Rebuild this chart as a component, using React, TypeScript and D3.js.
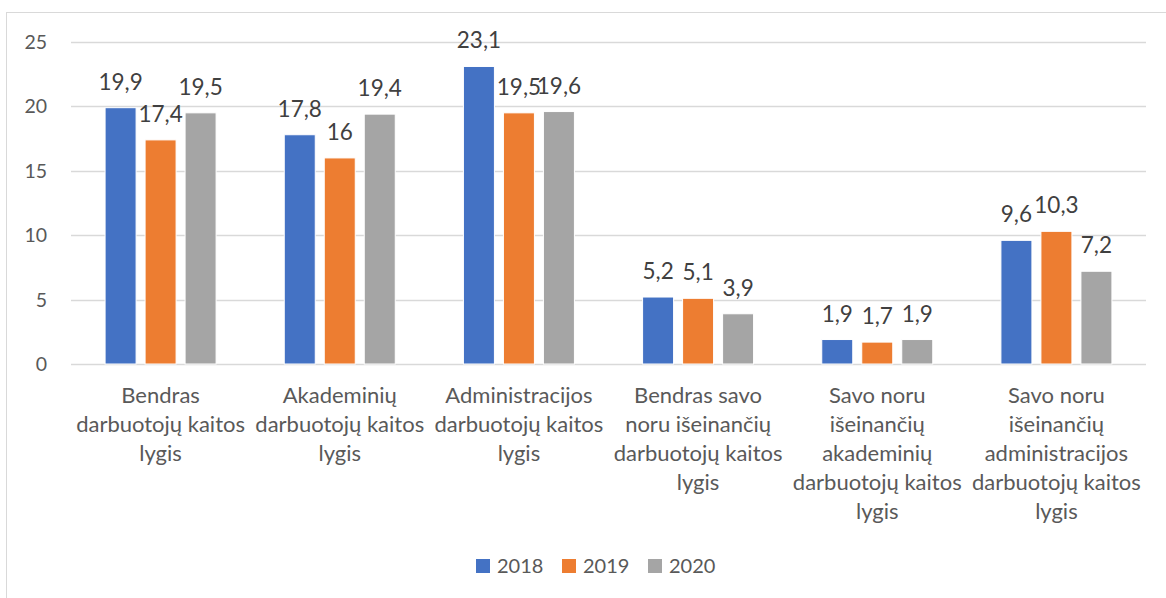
import * as d3 from "d3";
import React, { useEffect, useRef } from "react";

const categories = [
  ["Bendras", "darbuotojų kaitos", "lygis"],
  ["Akademinių", "darbuotojų kaitos", "lygis"],
  ["Administracijos", "darbuotojų kaitos", "lygis"],
  ["Bendras savo", "noru išeinančių", "darbuotojų kaitos", "lygis"],
  ["Savo noru", "išeinančių", "akademinių", "darbuotojų kaitos", "lygis"],
  ["Savo noru", "išeinančių", "administracijos", "darbuotojų kaitos", "lygis"],
];
const years = ["2018", "2019", "2020"];
const values2018 = [19.9, 17.8, 23.1, 5.2, 1.9, 9.6];
const values2019 = [17.4, 16, 19.5, 5.1, 1.7, 10.3];
const values2020 = [19.5, 19.4, 19.6, 3.9, 1.9, 7.2];
const yTicks = [0, 5, 10, 15, 20, 25];
const colors = ["#4472C4", "#ED7D31", "#A5A5A5"];

const W = 1166;
const H = 598;
const FONT = "Lato, 'Open Sans', sans-serif";

export default function App() {
  const ref = useRef<SVGSVGElement>(null);

  useEffect(() => {
    document.body.style.margin = "0";
    const svg = d3.select(ref.current);
    svg.selectAll("*").remove();

    // chart frame (runs off the right/bottom edge like the screenshot)
    svg
      .append("rect")
      .attr("x", 6.5)
      .attr("y", 12.5)
      .attr("width", W + 20)
      .attr("height", H + 20)
      .attr("fill", "white")
      .attr("stroke", "#d9d9d9");

    const left = 71;
    const right = 1146;
    const y = d3.scaleLinear().domain([0, 25]).range([364, 42]);
    const x0 = d3
      .scaleBand()
      .domain(categories.map((d, i) => String(i)))
      .range([left, right]);
    const x1 = d3
      .scaleBand()
      .domain(years)
      .range([0, 120])
      .paddingInner(0.225)
      .paddingOuter(0.1125);
    const groupOffset = (x0.bandwidth() - 120) / 2;

    // gridlines
    svg
      .append("g")
      .selectAll("line")
      .data(yTicks)
      .enter()
      .append("line")
      .attr("x1", left)
      .attr("x2", right)
      .attr("y1", (d) => Math.round(y(d)) + 0.5)
      .attr("y2", (d) => Math.round(y(d)) + 0.5)
      .attr("stroke", "#d9d9d9")
      .attr("stroke-width", 1.5);

    // y tick labels
    svg
      .append("g")
      .selectAll("text")
      .data(yTicks)
      .enter()
      .append("text")
      .attr("x", 47)
      .attr("y", (d) => y(d) + 7)
      .attr("text-anchor", "end")
      .attr("font-family", FONT)
      .attr("font-size", 19.5)
      .attr("fill", "#595959")
      .text((d) => d);

    const series = [values2018, values2019, values2020];
    const rows = categories.flatMap((c, i) =>
      years.map((yr, k) => ({ cat: String(i), year: yr, k, value: series[k][i] }))
    );

    const bx = (d) => x0(d.cat) + groupOffset + x1(d.year);

    svg
      .append("g")
      .selectAll("rect")
      .data(rows)
      .enter()
      .append("rect")
      .attr("x", bx)
      .attr("y", (d) => y(d.value))
      .attr("width", x1.bandwidth())
      .attr("height", (d) => y(0) - y(d.value))
      .attr("fill", (d) => colors[d.k])
      .attr("stroke", "white")
      .attr("stroke-width", 1);

    // data labels
    svg
      .append("g")
      .selectAll("text")
      .data(rows)
      .enter()
      .append("text")
      .attr("x", (d) => bx(d) + x1.bandwidth() / 2)
      .attr("y", (d) => y(d.value) - 18)
      .attr("text-anchor", "middle")
      .attr("font-family", FONT)
      .attr("font-size", 22.5)
      .attr("fill", "#404040")
      .text((d) => String(d.value).replace(".", ","));

    // category labels
    const cat = svg
      .append("g")
      .selectAll("text")
      .data(categories)
      .enter()
      .append("text")
      .attr("text-anchor", "middle")
      .attr("font-family", FONT)
      .attr("font-size", 22)
      .attr("fill", "#595959");
    cat
      .selectAll("tspan")
      .data((d, i) => d.map((line) => ({ line, i })))
      .enter()
      .append("tspan")
      .attr("x", (d) => x0(String(d.i)) + x0.bandwidth() / 2)
      .attr("y", (d, j) => 403 + j * 29)
      .text((d) => d.line);

    // legend
    const legend = svg
      .append("g")
      .selectAll("g")
      .data(years)
      .enter()
      .append("g")
      .attr("transform", (d, i) => `translate(${476 + i * 86}, 559)`);
    legend
      .append("rect")
      .attr("width", 14)
      .attr("height", 14)
      .attr("fill", (d, i) => colors[i]);
    legend
      .append("text")
      .attr("x", 21)
      .attr("y", 14)
      .attr("font-family", FONT)
      .attr("font-size", 20)
      .attr("fill", "#595959")
      .text((d) => d);
  }, []);

  return <svg ref={ref} width={W} height={H} style={{ display: "block" }}></svg>;
}
